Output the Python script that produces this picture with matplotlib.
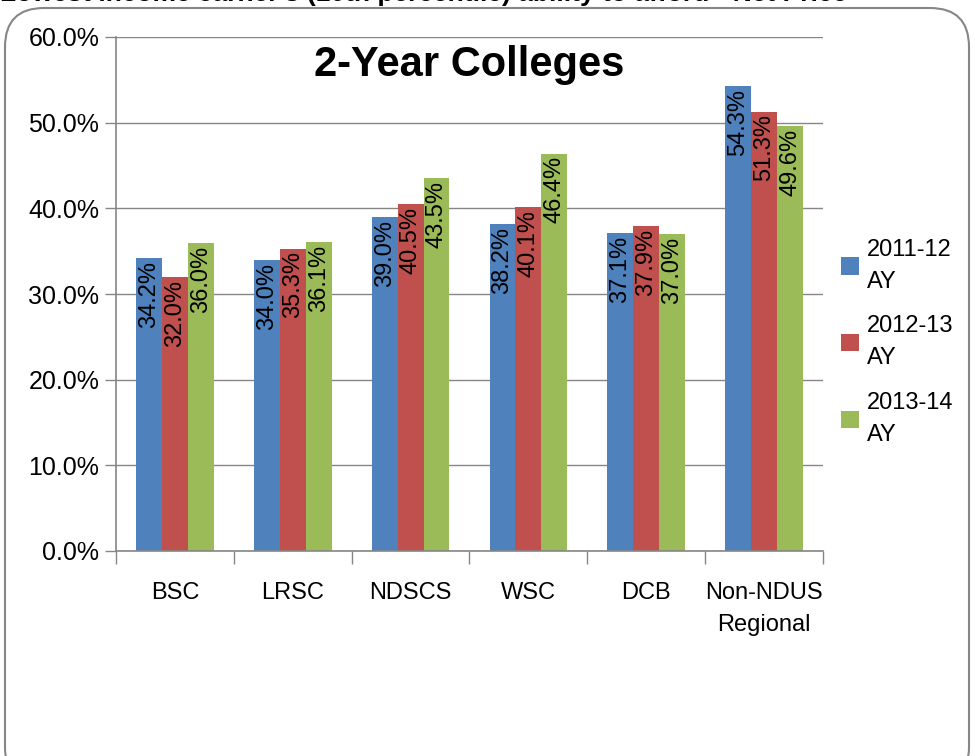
import numpy as np
import matplotlib.pyplot as plt
from matplotlib.patches import FancyBboxPatch
from matplotlib.ticker import FuncFormatter, FixedLocator

# ---- data ----
categories = ['BSC', 'LRSC', 'NDSCS', 'WSC', 'DCB', 'Non-NDUS\nRegional']
ay_2011 = [34.2, 34.0, 39.0, 38.2, 37.1, 54.3]
ay_2012 = [32.0, 35.3, 40.5, 40.1, 37.9, 51.3]
ay_2013 = [36.0, 36.1, 43.5, 46.4, 37.0, 49.6]
series_labels = ['2011-12\nAY', '2012-13\nAY', '2013-14\nAY']
colors = ['#4F81BD', '#C0504D', '#9BBB59']

plt.rcParams['font.family'] = ['Liberation Sans', 'DejaVu Sans']

W, H = 975, 756
fig = plt.figure(figsize=(W / 100, H / 100), dpi=100)

# rounded chart border
border = FancyBboxPatch((5 / W, -30 / H), 964 / W, (H - 8 + 30) / H,
                        boxstyle='round,pad=0,rounding_size=0.04',
                        transform=fig.transFigure, fill=False,
                        edgecolor='#868686', linewidth=1.5, mutation_aspect=W / H)
fig.patches.append(border)

# header text, clipped at the top edge like in the source image
fig.text(0.0, 1.0 + 6 / H, "Lowest income earner's (10th percentile) ability to afford - Net Price",
         fontsize=19, fontweight='bold', ha='left', va='center')

ax = fig.add_axes([116 / W, (H - 551) / H, (823 - 116) / W, (551 - 37) / H])

x = np.arange(len(categories))
bw = 0.22
for i, (vals, lab, col) in enumerate(zip([ay_2011, ay_2012, ay_2013], series_labels, colors)):
    xs = x + (i - 1) * bw
    ax.bar(xs, vals, bw, color=col, label=lab, zorder=2)
    for xx, v in zip(xs, vals):
        ax.annotate(f'{v:.1f}%', (xx, v), xytext=(0, -2), textcoords='offset points',
                    rotation=90, ha='center', va='top', fontsize=17, zorder=3)

ax.set_xlim(-0.5, len(categories) - 0.5)
ax.set_ylim(0, 60)
ax.yaxis.set_major_locator(FixedLocator(np.arange(0, 61, 10)))
ax.yaxis.set_major_formatter(FuncFormatter(lambda v, p: f'{v:.1f}%'))
ax.grid(axis='y', color='#868686', linewidth=1, zorder=0)
ax.set_axisbelow(True)

ax.set_xticks(x)
ax.set_xticklabels(categories, fontsize=17, linespacing=1.6)
ax.tick_params(axis='x', length=0, pad=22)
ax.set_xticks(np.arange(-0.5, len(categories)), minor=True)
ax.tick_params(axis='x', which='minor', length=9, color='#868686', width=1)
ax.tick_params(axis='y', labelsize=18, length=8, color='#868686', width=1, pad=4)

for s in ['top', 'right']:
    ax.spines[s].set_visible(False)
for s in ['left', 'bottom']:
    ax.spines[s].set_color('#868686')
    ax.spines[s].set_linewidth(1.2)

ax.text(0.5, 0.985, '2-Year Colleges', transform=ax.transAxes, ha='center', va='top',
        fontsize=30, fontweight='bold')

leg = ax.legend(loc='upper left', bbox_to_anchor=(1.002, 0.64), frameon=False, fontsize=17,
                handlelength=0.75, handleheight=0.75, handletextpad=0.35, labelspacing=0.95,
                borderaxespad=0.3)
for t in leg.get_texts():
    t.set_linespacing(1.6)

fig.savefig('out.png', dpi=100)
